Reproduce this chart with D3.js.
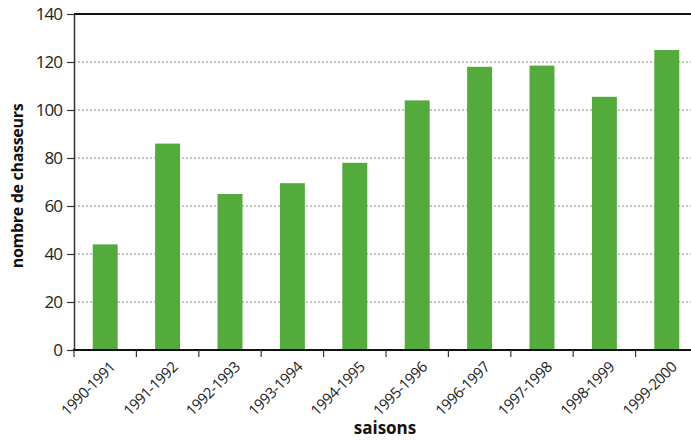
<!DOCTYPE html>
<html><head><meta charset="utf-8">
<script src="https://cdn.jsdelivr.net/npm/d3@7"></script>
<style>
body{margin:0;background:#fff;}
text{font-family:"Open Sans","Noto Sans",sans-serif;}
</style></head>
<body><svg id="c" width="691" height="441"></svg>
<script>
const seasons = ["1990-1991","1991-1992","1992-1993","1993-1994","1994-1995","1995-1996","1996-1997","1997-1998","1998-1999","1999-2000"];
const hunters = [44, 86, 65, 69.5, 78, 104, 118, 118.5, 105.5, 125];
const yTicks = [0, 20, 40, 60, 80, 100, 120, 140];

(function () {
const svg = d3.select("#c");
const mL = 74, mR = 698, mT = 14, mB = 350;
const x = d3.scaleBand().domain(seasons).range([mL, mR]).paddingInner(0.6).paddingOuter(0.3);
const y = d3.scaleLinear().domain([0, 140]).range([mB, mT]);

// grid
svg.append("g").selectAll("line").data(yTicks.filter(d => d > 0 && d < 140)).join("line")
  .attr("x1", mL).attr("x2", 691).attr("y1", d => y(d)).attr("y2", d => y(d))
  .attr("stroke", "#888").attr("stroke-width", 1).attr("stroke-dasharray", "2,2");
svg.append("line").attr("x1", mL).attr("x2", 691).attr("y1", y(140)).attr("y2", y(140))
  .attr("stroke", "#111").attr("stroke-width", 2);

// bars
svg.append("g").selectAll("rect").data(seasons).join("rect")
  .attr("x", d => x(d)).attr("width", x.bandwidth())
  .attr("y", (d, i) => y(hunters[i])).attr("height", (d, i) => y(0) - y(hunters[i]))
  .attr("fill", "#52ab3a");

// y axis
const ya = svg.append("g").attr("transform", `translate(${mL},0)`)
  .call(d3.axisLeft(y).tickValues(yTicks).tickSize(7).tickPadding(5).tickSizeOuter(0));
ya.attr("font-family", null);
ya.select(".domain").attr("stroke", "#333").attr("stroke-width", 1.5);
ya.selectAll(".tick line").attr("stroke", "#333").attr("stroke-width", 1.2);
ya.selectAll("text").attr("font-size", 17).attr("fill", "#222").attr("letter-spacing", "-1")
  .attr("dy", "0.34em");

// x axis
const step = x.step();
const bounds = d3.range(seasons.length + 1).map(i => mL + i * step);
svg.append("line").attr("x1", mL - 1).attr("x2", 691).attr("y1", mB).attr("y2", mB)
  .attr("stroke", "#111").attr("stroke-width", 2);
svg.append("g").selectAll("line").data(bounds).join("line")
  .attr("x1", d => d).attr("x2", d => d).attr("y1", mB).attr("y2", mB + 7)
  .attr("stroke", "#333").attr("stroke-width", 1.2);
svg.append("g").selectAll("text").data(seasons).join("text")
  .attr("transform", d => `translate(${x(d) + x.bandwidth() / 2 + 11},${mB + 18}) rotate(-45)`)
  .attr("text-anchor", "end").attr("font-size", 15).attr("fill", "#222").attr("letter-spacing", "-0.5")
  .text(d => d);

// titles
svg.append("text").attr("x", 385).attr("y", 434).attr("text-anchor", "middle")
  .attr("font-size", 17).attr("font-weight", "bold").attr("fill", "#111").text("saisons");
svg.append("text").attr("transform", `translate(23,${(mT + mB) / 2 + 4}) rotate(-90)`)
  .attr("text-anchor", "middle").attr("font-size", 16).attr("font-weight", "bold").attr("fill", "#111")
  .attr("letter-spacing", "-0.3").text("nombre de chasseurs");
})();
</script></body></html>
